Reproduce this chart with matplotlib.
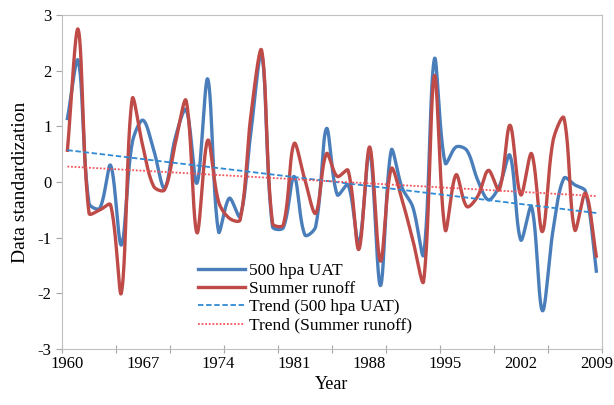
import numpy as np
import matplotlib
matplotlib.use("Agg")
from matplotlib import pyplot as plt

plt.rcParams['font.family'] = ['Liberation Serif', 'DejaVu Serif']
plt.rcParams['axes.unicode_minus'] = False

years = list(range(1960, 2010))

# standardized 500 hpa upper air temperature
uat = [1.14, 2.18, -0.38, -0.47, 0.30, -1.13, 0.70, 1.11, 0.57, -0.11,
       0.80, 1.30, -0.02, 1.85, -0.89, -0.29, -0.62, 0.90, 2.30, -0.80,
       -0.82, 0.10, -0.95, -0.80, 0.96, -0.23, -0.05, -1.10, 0.55, -1.86,
       0.57, -0.10, -0.45, -1.30, 2.21, 0.34, 0.63, 0.57, 0.04, -0.32,
       -0.08, 0.48, -1.04, -0.44, -2.31, -0.85, 0.07, -0.05, -0.17, -1.60]

# standardized summer runoff
runoff = [0.57, 2.74, -0.56, -0.50, -0.41, -1.99, 1.49, 0.63, -0.08, -0.14,
          0.70, 1.46, -0.91, 0.75, -0.35, -0.65, -0.68, 1.20, 2.36, -0.74,
          -0.77, 0.69, 0.04, -0.56, 0.51, 0.10, 0.21, -1.21, 0.63, -1.42,
          0.24, -0.32, -1.04, -1.78, 1.91, -0.86, 0.13, -0.44, -0.26, 0.21,
          -0.14, 1.02, -0.23, 0.51, -0.89, 0.75, 1.15, -0.86, -0.20, -1.33]

label_years = list(range(1960, 2010, 7))


def smooth(x, y, sx=10.8, sy=56.0, n=24):
    # bezier smoothing done in screen units, roughly what a spreadsheet does
    px = np.asarray(x, float) * sx
    py = np.asarray(y, float) * sy
    P = np.column_stack([px, py])
    P = np.vstack([P[0], P, P[-1]])
    t = np.linspace(0, 1, n, endpoint=False)[:, None]
    out = []
    for i in range(1, len(P) - 2):
        p0, p1, p2, p3 = P[i - 1], P[i], P[i + 1], P[i + 2]
        l01 = np.hypot(*(p1 - p0))
        l12 = np.hypot(*(p2 - p1))
        l23 = np.hypot(*(p3 - p2))
        f1 = l12 / (l01 + l12) if l01 + l12 > 0 else 0.5
        f2 = l12 / (l12 + l23) if l12 + l23 > 0 else 0.5
        c1 = p1 + (p2 - p0) * f1 / 3
        c2 = p2 - (p3 - p1) * f2 / 3
        b = (1 - t) ** 3 * p1 + 3 * (1 - t) ** 2 * t * c1 + 3 * (1 - t) * t ** 2 * c2 + t ** 3 * p2
        out.append(b)
    out.append(P[-2][None, :])
    out = np.vstack(out)
    return out[:, 0] / sx, out[:, 1] / sy


fig = plt.figure(figsize=(6.14, 4.05), dpi=100)
ax = fig.add_axes([0.101, 0.138, 0.879, 0.825])

cx, cy = smooth(years, uat)
ax.plot(cx, cy, color='#4a7ebb', lw=2.4, label='500 hpa UAT', zorder=3)
cx, cy = smooth(years, runoff)
ax.plot(cx, cy, color='#be4b48', lw=2.4, label='Summer runoff', zorder=3)

yr = np.array(years, float)
k1 = np.polyfit(yr, uat, 1)
k2 = np.polyfit(yr, runoff, 1)
ax.plot(yr, np.polyval(k1, yr), color='#2f8ad3', lw=1.3, ls=(0, (3, 1.5)),
        label='Trend (500 hpa UAT)', zorder=4)
ax.plot(yr, np.polyval(k2, yr), color='#f2545b', lw=1.3, ls=(0, (1, 1)),
        label='Trend (Summer runoff)', zorder=4)

ax.set_xlim(1959.5, 2009.5)
ax.set_ylim(-3, 3)
ax.set_xticks(np.arange(1959.5, 2010, 5))
ax.set_xticklabels([])
ax.set_xticks(label_years, minor=True)
ax.set_xticklabels([str(v) for v in label_years], minor=True, fontsize=12)
ax.tick_params(axis='x', which='major', direction='inout', length=6, color='#a6a6a6')
ax.tick_params(axis='x', which='minor', length=0, pad=5)
ax.set_yticks(range(-3, 4))
ax.set_yticklabels([str(v) for v in range(-3, 4)], fontsize=12)
ax.tick_params(axis='y', direction='out', length=4, color='#a6a6a6')
for s in ax.spines.values():
    s.set_color('#c0c0c0')

ax.set_xlabel('Year', fontsize=13, labelpad=3)
ax.set_ylabel('Data standardization', fontsize=14, labelpad=6)

ax.legend(loc='lower left', bbox_to_anchor=(0.23, 0.01), frameon=False, fontsize=12.5,
          handlelength=2.7, handletextpad=0.2, labelspacing=0.12, borderpad=0.2)

fig.savefig('out.png', dpi=100)
